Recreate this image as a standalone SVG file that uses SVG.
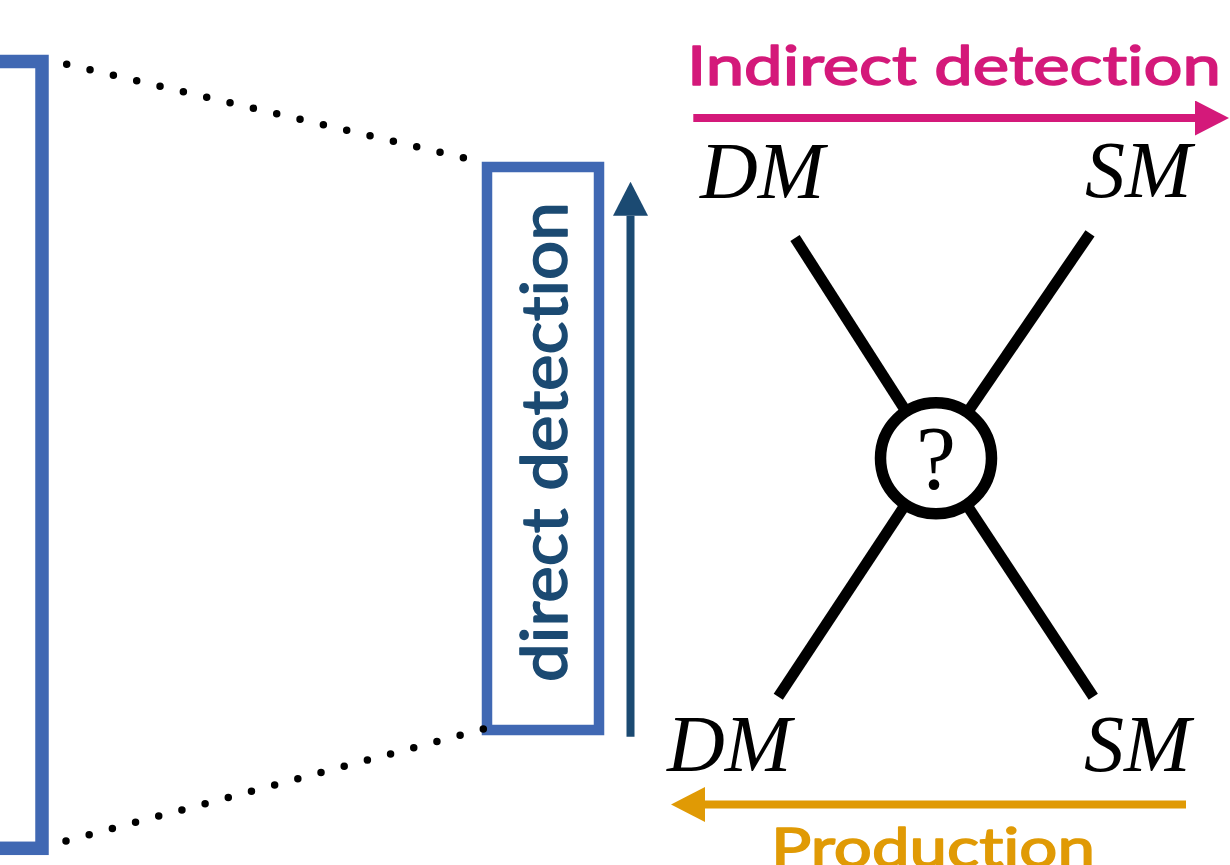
<svg xmlns="http://www.w3.org/2000/svg" width="1230" height="865" viewBox="0 0 1230 865">
  <style>
    .frame { fill: none; stroke: #4068B3; }
    .dots { fill: none; stroke: #000; stroke-width: 7.5; stroke-linecap: round; stroke-dasharray: 0 1; }
    .leg { stroke: #000; stroke-width: 11; stroke-linecap: butt; fill: none; }
    .particle { font-family: "Liberation Serif", "Times New Roman", serif; font-style: italic; font-size: 80px; fill: #000; }
    .label { font-family: Lato, "Open Sans", sans-serif; font-weight: 400; font-variant-ligatures: none; stroke-width: 1.6; stroke-linejoin: round; }
    .shaft { stroke-width: 8; stroke-linecap: butt; fill: none; }
  </style>
  <defs>
    <marker id="head-pink" viewBox="0 0 34 35" refX="0" refY="17.5" markerWidth="34" markerHeight="35" markerUnits="userSpaceOnUse" orient="auto">
      <path d="M0,0 L34,17.5 L0,35 Z" fill="#D4197A"/>
    </marker>
    <marker id="head-orange" viewBox="0 0 34 35" refX="0" refY="17.5" markerWidth="34" markerHeight="35" markerUnits="userSpaceOnUse" orient="auto">
      <path d="M0,0 L34,17.5 L0,35 Z" fill="#E09A05"/>
    </marker>
    <marker id="head-navy" viewBox="0 0 34 35" refX="0" refY="17.5" markerWidth="34" markerHeight="35" markerUnits="userSpaceOnUse" orient="auto">
      <path d="M0,0 L34,17.5 L0,35 Z" fill="#1B4A72"/>
    </marker>
  </defs>

  <!-- wide frame, mostly off the left edge -->
  <g id="outer-frame">
    <rect class="frame" x="-100" y="61.5" width="142" height="786.8" stroke-width="13.5"/>
  </g>

  <!-- zoomed-in window holding the direct detection label -->
  <g id="direct-box">
    <rect class="frame" x="487" y="167" width="112" height="563" stroke-width="10.5"/>
    <text class="label" font-size="63" fill="#1B4A72" stroke="#1B4A72" transform="translate(567,682) rotate(-90)" textLength="480" lengthAdjust="spacingAndGlyphs">direct detection</text>
  </g>

  <!-- dotted projection lines -->
  <g id="projection">
    <path class="dots" d="M66.7,64.3 L486.7,163.3" pathLength="18"/>
    <path class="dots" d="M66,841 L483.3,729" pathLength="18"/>
  </g>

  <!-- process arrows -->
  <g id="connectors">
    <line class="shaft" x1="693.3" y1="118" x2="1195" y2="118" stroke="#D4197A" marker-end="url(#head-pink)"/>
    <line class="shaft" x1="1186" y1="804.5" x2="705" y2="804.5" stroke="#E09A05" marker-end="url(#head-orange)"/>
    <line class="shaft" x1="630.5" y1="736.7" x2="630.5" y2="215.7" stroke="#1B4A72" marker-end="url(#head-navy)"/>
  </g>

  <g id="indirect-label">
    <text class="label" x="687" y="85" font-size="55" fill="#D4197A" stroke="#D4197A" textLength="534" lengthAdjust="spacingAndGlyphs">Indirect detection</text>
  </g>
  <g id="production-label">
    <text class="label" x="771" y="866.5" font-size="55" fill="#E09A05" stroke="#E09A05" textLength="324" lengthAdjust="spacingAndGlyphs">Production</text>
  </g>

  <!-- four-point interaction vertex -->
  <g id="vertex">
    <line class="leg" x1="795" y1="238" x2="936" y2="458.3"/>
    <line class="leg" x1="1090" y1="233.3" x2="936" y2="458.3"/>
    <line class="leg" x1="778.3" y1="696.7" x2="936" y2="458.3"/>
    <line class="leg" x1="1093.3" y1="696.7" x2="936" y2="458.3"/>
    <circle cx="936" cy="458.3" r="55.5" fill="#fff" stroke="#000" stroke-width="11.5"/>
    <text x="936" y="489" font-family="'Liberation Serif', 'Times New Roman', serif" font-size="90" text-anchor="middle" fill="#000">?</text>
  </g>

  <g id="dm-top"><text class="particle" x="700" y="197.5">DM</text></g>
  <g id="sm-top"><text class="particle" x="1085" y="196.7">SM</text></g>
  <g id="dm-bottom"><text class="particle" x="667" y="771">DM</text></g>
  <g id="sm-bottom"><text class="particle" x="1084" y="770.7">SM</text></g>
</svg>
